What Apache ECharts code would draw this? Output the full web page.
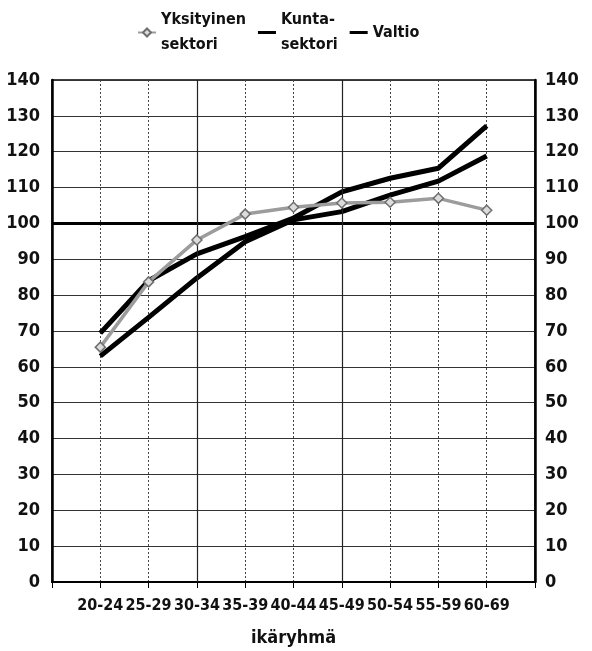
<!DOCTYPE html>
<html>
<head>
<meta charset="utf-8">
<script src="https://cdn.jsdelivr.net/npm/echarts@6/dist/echarts.min.js"></script>
<style>
html,body{margin:0;padding:0;background:#fff;}
#c{width:592px;height:651px;}
</style>
</head>
<body>
<div id="c"></div>
<script>
var categories = ['20-24','25-29','30-34','35-39','40-44','45-49','50-54','55-59','60-69'];
var yksityinen = [65.5, 83.7, 95.4, 102.6, 104.5, 105.7, 105.9, 107, 103.7];
var kunta = [69.4, 84, 91.5, 96.3, 101.5, 108.8, 112.6, 115.4, 127.2];
var valtio = [63, 73.8, 84.8, 94.9, 101, 103.3, 107.9, 111.8, 118.8];
var yTicks = [0, 140, 10];
var seriesNames = ['Yksityinen\nsektori', 'Kunta-\nsektori', 'Valtio'];

var FONT = '"Arial Narrow","Liberation Sans Narrow","DejaVu Sans Condensed",sans-serif';
function pad(a){ return [null].concat(a).concat([null]); }
var axisCats = [''].concat(categories).concat(['']);
var thickIcon = 'path://M0,0L0.01,0M0,3.5L18,3.5L18,6.5L0,6.5ZM0,10L0.01,10';

var chart = echarts.init(document.getElementById('c'));
chart.setOption({
  animation: false,
  backgroundColor: '#fff',
  legend: {
    left: 132, top: -10,
    itemGap: 12,
    itemWidth: 18, itemHeight: 10,
    data: [
      { name: seriesNames[0] },
      { name: seriesNames[1], icon: thickIcon, itemStyle: { color: '#000' } },
      { name: seriesNames[2], icon: thickIcon, itemStyle: { color: '#000' } }
    ],
    textStyle: { fontFamily: FONT, fontWeight: 'bold', fontSize: 16, color: '#111', lineHeight: 25, padding: [25, 0, 0, 0] }
  },
  grid: { left: 52, right: 57, top: 80, bottom: 69, show: true, borderColor: '#000', borderWidth: 1.5, containLabel: false, outerBoundsMode: 'none' },
  xAxis: {
    type: 'category',
    data: axisCats,
    boundaryGap: false,
    axisLine: { lineStyle: { color: '#000', width: 2 } },
    axisTick: { show: true, length: 6, lineStyle: { color: '#000', width: 1 } },
    axisLabel: { fontFamily: FONT, fontWeight: 'bold', fontSize: 16, color: '#111', margin: 16, interval: 0 },
    splitLine: { show: true, lineStyle: { color: '#444', width: 1, type: [2, 2] } },
    name: 'ikäryhmä',
    nameLocation: 'middle',
    nameGap: 47,
    nameTextStyle: { fontFamily: FONT, fontWeight: 'bold', fontSize: 18, color: '#111' }
  },
  yAxis: [{
    type: 'value', min: yTicks[0], max: yTicks[1], interval: yTicks[2],
    position: 'left',
    axisLine: { show: true, lineStyle: { color: '#000', width: 2.5 } },
    axisTick: { show: false },
    axisLabel: { fontFamily: FONT, fontWeight: 'bold', fontSize: 18, color: '#111', margin: 12 },
    splitLine: { show: true, lineStyle: { color: '#333', width: 1 } }
  }, {
    type: 'value', min: yTicks[0], max: yTicks[1], interval: yTicks[2],
    position: 'right',
    axisLine: { show: true, lineStyle: { color: '#000', width: 2.5 } },
    axisTick: { show: false },
    axisLabel: { fontFamily: FONT, fontWeight: 'bold', fontSize: 18, color: '#111', margin: 10 },
    splitLine: { show: false }
  }],
  series: [{
    name: seriesNames[0],
    type: 'line',
    z: 5,
    data: pad(yksityinen),
    symbol: 'diamond', symbolSize: 10,
    lineStyle: { color: '#9c9c9c', width: 3.5 },
    itemStyle: { color: '#dcdcdc', borderColor: '#6e6e6e', borderWidth: 1.5 }
  }, {
    name: seriesNames[1],
    type: 'line',
    z: 3,
    data: pad(kunta),
    symbol: 'none',
    lineStyle: { color: '#000', width: 5 },
    itemStyle: { color: '#000' },
    markLine: {
      silent: true, symbol: 'none', label: { show: false },
      data: [
        { yAxis: 100, lineStyle: { color: '#000', width: 3, type: 'solid' } },
        { xAxis: '30-34', lineStyle: { color: '#222', width: 1.2, type: 'solid' } },
        { xAxis: '45-49', lineStyle: { color: '#222', width: 1.2, type: 'solid' } }
      ]
    }
  }, {
    name: seriesNames[2],
    type: 'line',
    z: 3,
    data: pad(valtio),
    symbol: 'none',
    lineStyle: { color: '#000', width: 5 },
    itemStyle: { color: '#000' }
  }]
});
</script>
</body>
</html>
